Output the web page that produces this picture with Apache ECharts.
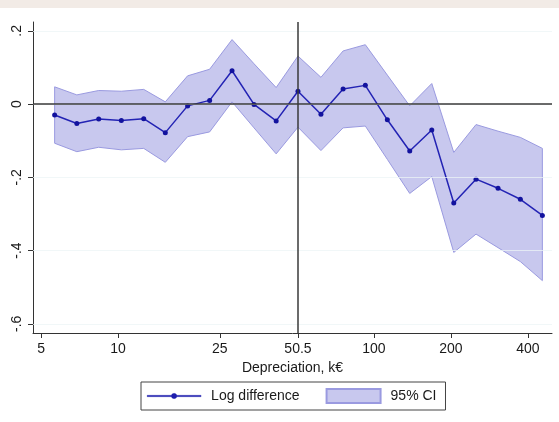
<!DOCTYPE html>
<html>
<head>
<meta charset="utf-8">
<script src="https://cdn.jsdelivr.net/npm/echarts@6/dist/echarts.min.js"></script>
<style>html,body{margin:0;padding:0;background:#fff}#c{width:559px;height:422px}</style>
</head>
<body>
<div id="c"></div>
<script>
// Depreciation (k€) bin positions
const depreciation = [5.65, 6.9, 8.4, 10.3, 12.6, 15.3, 18.7, 22.8, 27.9, 34.0, 41.5, 50.5, 62.1, 75.8, 92.6, 112.9, 138.1, 168.4, 205.3, 250.8, 305.8, 373.8, 455.7];
const logDiff = [-0.030, -0.053, -0.041, -0.045, -0.040, -0.078, -0.005, 0.010, 0.091, -0.001, -0.046, 0.035, -0.028, 0.041, 0.051, -0.043, -0.128, -0.071, -0.270, -0.205, -0.230, -0.260, -0.304];
const ciUpper = [0.047, 0.025, 0.037, 0.035, 0.040, 0.006, 0.077, 0.095, 0.176, 0.110, 0.045, 0.131, 0.073, 0.145, 0.162, 0.079, -0.005, 0.056, -0.132, -0.056, -0.074, -0.091, -0.121];
const ciLower = [-0.107, -0.130, -0.118, -0.125, -0.121, -0.159, -0.089, -0.076, 0.006, -0.065, -0.136, -0.063, -0.127, -0.065, -0.060, -0.151, -0.244, -0.198, -0.405, -0.355, -0.392, -0.430, -0.482];
const xTicks = [5, 10, 25, 50.5, 100, 200, 400];
const yTicks = [-0.6, -0.4, -0.2, 0, 0.2];
const refX = 50.5;
const refY = 0;

const FONT = 'Liberation Sans, Arial, sans-serif';
const chart = echarts.init(document.getElementById('c'), null, {renderer: 'canvas'});

function fmtY(v) {
  if (Math.abs(v) < 1e-9) return '0';
  const s = String(Math.round(Math.abs(v) * 10) / 10).replace(/^0/, '');
  return (v < 0 ? '-' : '') + s;
}

// legend icon: line with a small dot in the middle (same winding so the dot is filled)
const lineDotIcon = 'path://M0 6.2H54V7.8H0Z M24.3 7A2.7 2.7 0 1 1 29.7 7A2.7 2.7 0 1 1 24.3 7Z';

const option = {
  backgroundColor: '#ffffff',
  animation: false,
  graphic: [{
    type: 'rect', left: 0, top: 0, z: -10,
    shape: {width: 559, height: 8},
    style: {fill: '#f2ebe6'}
  }],
  grid: {left: 33, right: 7, top: 22, bottom: 89, containLabel: false},
  xAxis: {
    type: 'log', logBase: 10, min: 4.65, max: 497,
    axisLine: {show: true, onZero: false, lineStyle: {color: '#333', width: 1}},
    axisTick: {show: true, length: 5, customValues: xTicks, lineStyle: {color: '#333'}},
    axisLabel: {customValues: xTicks, fontSize: 14, color: '#1a1a1a', fontFamily: FONT, margin: 9,
      formatter: v => String(v)},
    splitLine: {show: false},
    minorTick: {show: false},
    name: 'Depreciation, k€', nameLocation: 'middle', nameGap: 26,
    nameTextStyle: {fontSize: 14, color: '#1a1a1a', fontFamily: FONT}
  },
  yAxis: {
    type: 'value', min: -0.625, max: 0.224,
    axisLine: {show: true, onZero: false, lineStyle: {color: '#333', width: 1}},
    axisTick: {show: true, length: 5, customValues: yTicks, lineStyle: {color: '#333'}},
    axisLabel: {customValues: yTicks, rotate: 90, fontSize: 14, color: '#1a1a1a', fontFamily: FONT, margin: 9,
      formatter: fmtY},
    splitLine: {show: false}
  },
  legend: {
    left: 141, top: 382,
    orient: 'horizontal',
    padding: [6, 9, 6, 6],
    itemWidth: 54, itemHeight: 14, itemGap: 26,
    borderColor: '#444', borderWidth: 1,
    textStyle: {fontSize: 14, color: '#1a1a1a', fontFamily: FONT, padding: [0, 0, 0, 5]},
    data: [
      {name: 'Log difference', icon: lineDotIcon,
        itemStyle: {color: '#1e1eae', opacity: 1, borderColor: '#1e1eae', borderWidth: 0.2}},
      {name: '95% CI', icon: 'rect'}
    ]
  },
  series: [
    {
      name: '95% CI',
      type: 'custom',
      z: 1,
      data: depreciation.map((x, i) => [x, ciLower[i], ciUpper[i]]),
      encode: {x: 0, y: [1, 2]},
      itemStyle: {color: '#c8c8ee', borderColor: '#9a9ae0', borderWidth: 1},
      renderItem: function (params, api) {
        if (params.dataIndex !== 0) return null;
        const pts = [];
        for (let i = 0; i < depreciation.length; i++) pts.push(api.coord([depreciation[i], ciUpper[i]]));
        for (let i = depreciation.length - 1; i >= 0; i--) pts.push(api.coord([depreciation[i], ciLower[i]]));
        return {type: 'polygon', shape: {points: pts}, style: {fill: '#c8c8ee', stroke: '#9a9ae0', lineWidth: 1}};
      },
      markLine: {
        silent: true, symbol: 'none', label: {show: false}, animation: false,
        lineStyle: {color: 'rgba(236,244,246,0.75)', width: 1, type: 'solid'},
        data: yTicks.map(v => ({yAxis: v}))
      }
    },
    {
      name: 'Log difference',
      type: 'line',
      z: 3,
      data: depreciation.map((x, i) => [x, logDiff[i]]),
      symbol: 'circle', symbolSize: 5, showSymbol: true,
      lineStyle: {color: '#2323b4', width: 1.5},
      itemStyle: {color: '#12129e'},
      markLine: {
        silent: true, symbol: 'none', label: {show: false}, animation: false,
        lineStyle: {color: '#3a3a3a', width: 1.5, type: 'solid'},
        data: [{yAxis: refY}, {xAxis: refX}]
      }
    }
  ]
};
chart.setOption(option);
</script>
</body>
</html>
